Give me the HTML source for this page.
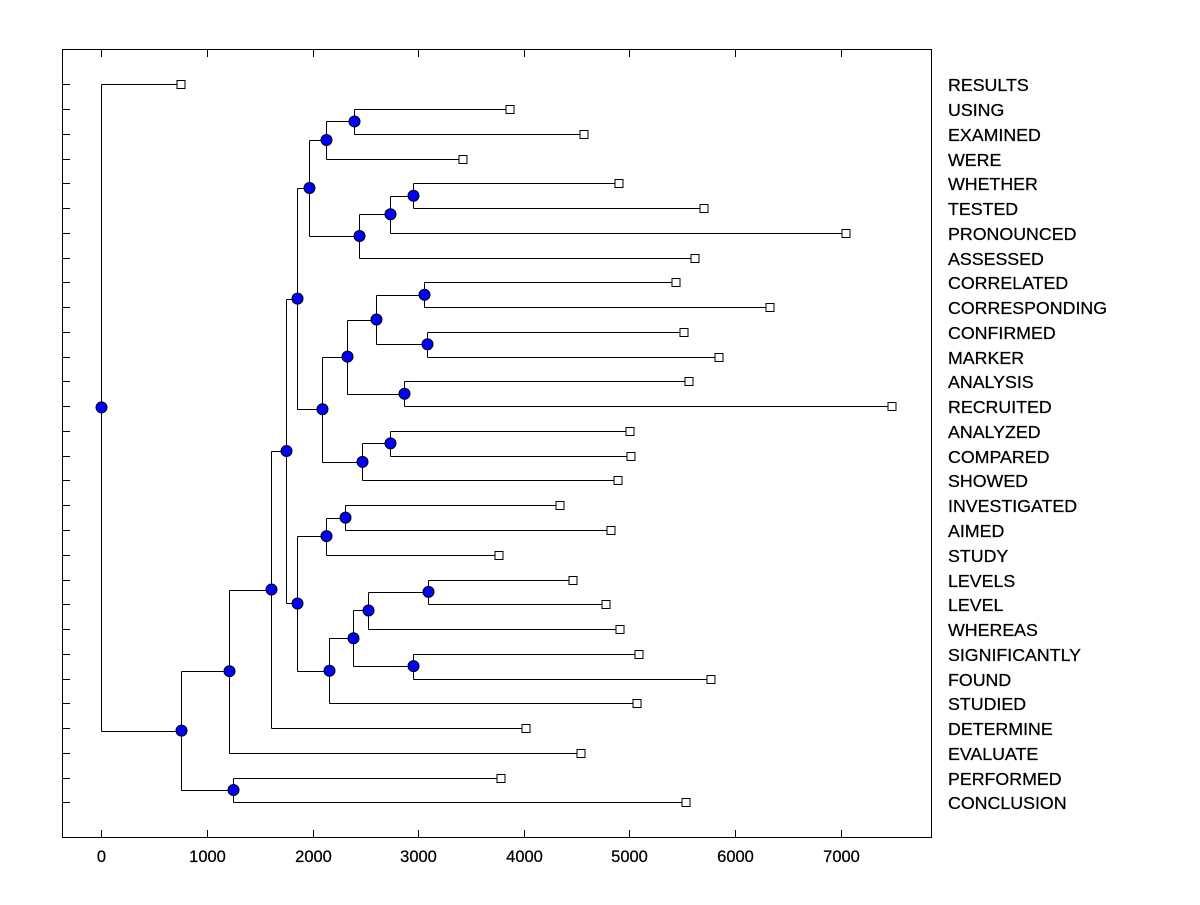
<!DOCTYPE html>
<html><head><meta charset="utf-8"><style>
html,body{margin:0;padding:0;background:#fff;}
svg text{font-family:"Liberation Sans",Arial,sans-serif;font-size:17.8px;fill:#000;stroke:#000;stroke-width:0.25px;}
</style></head><body>
<svg id="s" width="1200" height="900" xmlns="http://www.w3.org/2000/svg"></svg>
<script>
const s=document.getElementById('s');
const Y0=84.3,DY=24.76;
const leaves=[["RESULTS",181],["USING",510],["EXAMINED",584],["WERE",463],["WHETHER",619],["TESTED",704],["PRONOUNCED",846],["ASSESSED",695],["CORRELATED",676],["CORRESPONDING",770],["CONFIRMED",684],["MARKER",719],["ANALYSIS",689],["RECRUITED",892],["ANALYZED",630],["COMPARED",631],["SHOWED",618],["INVESTIGATED",560],["AIMED",611],["STUDY",499],["LEVELS",573],["LEVEL",606],["WHEREAS",620],["SIGNIFICANTLY",639],["FOUND",711],["STUDIED",637],["DETERMINE",526],["EVALUATE",581],["PERFORMED",501],["CONCLUSION",686]];
const N={};
leaves.forEach((l,i)=>{N[l[0]]={x:l[1],y:Y0+i*DY,leaf:true};});
const defs=[["A",354,"USING","EXAMINED"],["B",326,"A","WERE"],["C",413,"WHETHER","TESTED"],["D",390,"C","PRONOUNCED"],["E",359,"D","ASSESSED"],["F",309,"B","E"],["G",424,"CORRELATED","CORRESPONDING"],["H",427,"CONFIRMED","MARKER"],["I",376,"G","H"],["J",404,"ANALYSIS","RECRUITED"],["K",347,"I","J"],["L",390,"ANALYZED","COMPARED"],["M",362,"L","SHOWED"],["Nn",322,"K","M"],["O",297,"F","Nn"],["P",345,"INVESTIGATED","AIMED"],["Q",326,"P","STUDY"],["R",428,"LEVELS","LEVEL"],["S",368,"R","WHEREAS"],["T",413,"SIGNIFICANTLY","FOUND"],["U",353,"S","T"],["V",329,"U","STUDIED"],["W",297,"Q","V"],["X",286,"O","W"],["Y",271,"X","DETERMINE"],["Z",229,"Y","EVALUATE"],["AA",233,"PERFORMED","CONCLUSION"],["AB",181,"Z","AA"],["ROOT",101,"RESULTS","AB"]];
let h='';
const L=(x1,y1,x2,y2)=>h+=`<line x1="${x1}" y1="${y1}" x2="${x2}" y2="${y2}" stroke="#000" stroke-width="1"/>`;
h+='<rect x="62.5" y="49.5" width="869" height="788" fill="none" stroke="#000" stroke-width="1"/>';
for(let i=0;i<30;i++){const y=Math.round(Y0+i*DY)+0.5;L(62,y,70,y);}
for(let v=0;v<=7000;v+=1000){const x=Math.round(101.3+v*0.1056)+0.5;L(x,838,x,830);L(x,49,x,57);
h+=`<text x="${x}" y="862" text-anchor="middle" style="font-size:16.5px">${v}</text>`;}
const dots=[];
defs.forEach(d=>{const a=N[d[2]],b=N[d[3]],x=d[1];const y=(a.y+b.y)/2;N[d[0]]={x,y};
const X=x+0.5;L(X,Math.round(a.y)+0.5,X,Math.round(b.y)+0.5);
L(X,Math.round(a.y)+0.5,a.x,Math.round(a.y)+0.5);L(X,Math.round(b.y)+0.5,b.x,Math.round(b.y)+0.5);
dots.push([X,y]);});
leaves.forEach((l,i)=>{const y=Math.round(Y0+i*DY)+0.5;
h+=`<rect x="${l[1]-4}" y="${y-4}" width="8" height="8" fill="#fff" stroke="#000"/>`;
h+=`<text x="948" y="${y+6.5}">${l[0]}</text>`;});
dots.forEach(d=>h+=`<circle cx="${d[0]}" cy="${d[1]}" r="5.5" fill="#0000ff" stroke="#000" stroke-width="1"/>`);
s.innerHTML=h;
</script>
</body></html>
